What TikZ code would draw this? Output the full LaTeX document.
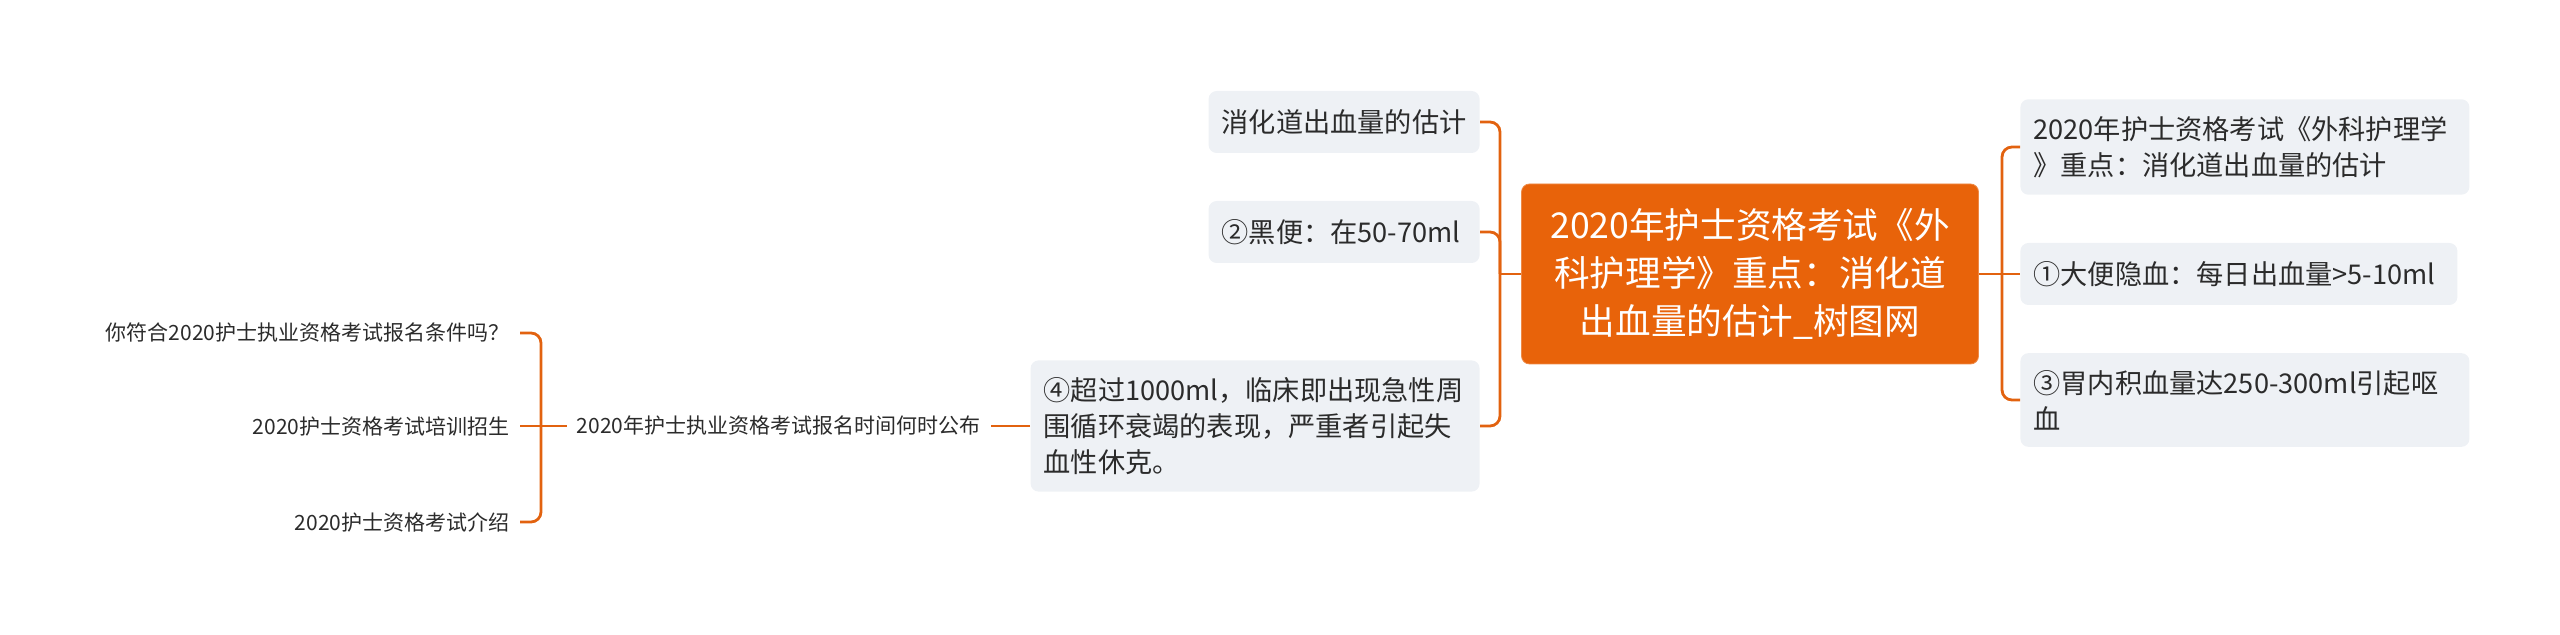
\documentclass[tikz,border=0pt]{standalone}
\usepackage{fontspec}
\setmainfont{Noto Sans CJK SC}
\usetikzlibrary{positioning}
\definecolor{rootorange}{HTML}{E8630A}
\definecolor{linkorange}{HTML}{E2620F}
\definecolor{leafgrey}{HTML}{EEF1F5}
\definecolor{inkgrey}{HTML}{2B2B2B}

\begin{document}
\begin{tikzpicture}[x=0.5pt, y=-0.5pt,
	link/.style={draw=linkorange, line width=1.4pt, rounded corners=5pt},
	topic/.style={rectangle, rounded corners=4pt, fill=rootorange, draw=rootorange!75!white, text=white, align=center,
		font=\fontsize{17.8pt}{24pt}\selectfont, minimum width=228.5pt, minimum height=90pt},
	leaf/.style={rectangle, rounded corners=4pt, fill=leafgrey, text=inkgrey, align=left,
		font=\fontsize{13.6pt}{18pt}\selectfont, inner xsep=6.5pt, inner ysep=8.5pt, minimum height=31pt},
	plain/.style={text=inkgrey, font=\fontsize{10.5pt}{14pt}\selectfont, inner sep=5pt}]
	\useasboundingbox (0,0) rectangle (2560,635);
	
	\node[topic] (root) at (1750,274) {2020年护士资格考试《外\\科护理学》重点：消化道\\出血量的估计\_树图网};
	\node[leaf, anchor=east, text width=122.5pt] (est)    at (1480,122) {消化道出血量的估计};
	\node[leaf, anchor=east, text width=122.5pt] (black)  at (1480,232) {②黑便：在50-70ml};
	\node[leaf, anchor=east, text width=211.5pt] (shock)  at (1480,426) {④超过1000ml，临床即出现急性周\\围循环衰竭的表现，严重者引起失\\血性休克。};
	\node[leaf, anchor=west, text width=211.5pt] (title)  at (2020,147) {2020年护士资格考试《外科护理学\\》重点：消化道出血量的估计};
	\node[leaf, anchor=west, text width=205.5pt] (occult) at (2020,274) {①大便隐血：每日出血量>5-10ml};
	\node[leaf, anchor=west, text width=211.5pt] (vomit)  at (2020,400) {③胃内积血量达250-300ml引起呕\\血};
	
	\node[plain, anchor=east] (publish) at (991,426) {2020年护士执业资格考试报名时间何时公布};
	\node[plain, anchor=east] (meet)    at (520,333) {你符合2020护士执业资格考试报名条件吗？};
	\node[plain, anchor=east] (train)   at (520,426) {2020护士资格考试培训招生};
	\node[plain, anchor=east] (intro)   at (520,522) {2020护士资格考试介绍};
	
	\coordinate (lbus) at (1500,274);
	\coordinate (rbus) at (2002,274);
	\coordinate (pbus) at (541,426);
	
	% main branches
	\draw[link] (root.west) -- (lbus);
	\draw[link] (lbus) |- (est.east);
	\draw[link] (lbus) |- (black.east);
	\draw[link] (lbus) |- (shock.east);
	\draw[link] (root.east) -- (rbus);
	\draw[link] (rbus) |- (title.west);
	\draw[link] (rbus) -- (occult.west);
	\draw[link] (rbus) |- (vomit.west);
	
	% sub branches
	\draw[link] (shock.west) -- (publish.east);
	\draw[link] (publish.west) -- (pbus);
	\draw[link] (pbus) |- (meet.east);
	\draw[link] (pbus) -- (train.east);
	\draw[link] (pbus) |- (intro.east);
\end{tikzpicture}
\end{document}
